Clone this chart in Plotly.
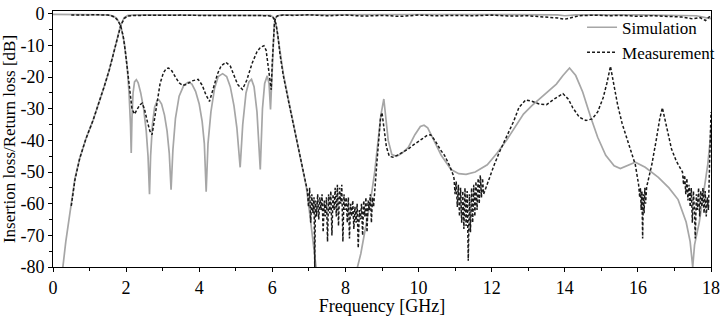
import plotly.graph_objects as go

# ---------------- data (frequency GHz, level dB) ----------------
sim_s21 = [(0.20,-90),(0.27,-80),(0.35,-72),(0.49,-60),(0.60,-52),(0.73,-45.7),(0.90,-39.5),(1.10,-33.5),
           (1.27,-27.7),(1.40,-23),(1.54,-17.7),(1.65,-13),(1.75,-8.5),(1.85,-3.6),(1.95,-1.2),(2.05,-0.5),
           (2.30,-0.3),(3.0,-0.3),(4.0,-0.3),(5.0,-0.3),(5.80,-0.35),(5.95,-0.5),(6.02,-1.0),(6.07,-2.0),
           (6.12,-4.5),(6.16,-8),(6.21,-12.6),(6.30,-19),(6.45,-27.7),(6.60,-36),(6.72,-42.7),(6.85,-50),
           (6.93,-54.7),(7.00,-61),(7.07,-67.7),(7.14,-74),(7.20,-80),(7.30,-90),(8.20,-90),(8.33,-80),
           (8.42,-75.8),(8.55,-68),(8.70,-58),(8.80,-50),(8.90,-40),(8.97,-32),(9.05,-26.9),(9.10,-33),
           (9.17,-40),(9.27,-44.5),(9.40,-45),(9.55,-44),(9.72,-42.2),(9.90,-38.2),(10.05,-35.6),(10.15,-35.2),
           (10.25,-36),(10.40,-39.5),(10.62,-44.7),(10.89,-49.2),(11.10,-50.5),(11.30,-50.7),(11.55,-50),
           (11.88,-47.7),(12.15,-44),(12.42,-39.7),(12.65,-35.5),(12.87,-31.7),(13.10,-29),(13.32,-26.7),
           (13.55,-24.5),(13.77,-22.2),(13.95,-19.5),(14.13,-17.1),(14.30,-19.5),(14.49,-24.7),(14.71,-32.7),
           (14.90,-39),(15.12,-44.7),(15.35,-48),(15.52,-48.9),(15.70,-48),(15.93,-46.9),(16.20,-48.5),
           (16.56,-51.7),(16.85,-55),(17.10,-58.7),(17.32,-65.8),(17.43,-72),(17.50,-80),(17.55,-73),
           (17.68,-65.8),(17.80,-56),(17.91,-47.7),(17.98,-39.7),(18.0,-36)]

sim_s11 = [(0.0,-0.15),(1.0,-0.2),(1.5,-0.3),(1.65,-0.7),(1.75,-1.5),(1.85,-3.6),(1.95,-9),(2.03,-17),
           (2.08,-25),(2.12,-35),(2.14,-44),(2.16,-33),(2.19,-25),(2.23,-21.5),(2.28,-20.8),(2.33,-21.8),
           (2.40,-25),(2.48,-30),(2.55,-37),(2.60,-45),(2.64,-57),(2.67,-45),(2.72,-35),(2.78,-29.5),
           (2.85,-27.4),(2.90,-27.2),(2.97,-28.5),(3.05,-32),(3.12,-37),(3.18,-44),(3.23,-55.6),(3.28,-43),
           (3.35,-33),(3.45,-26),(3.58,-22.5),(3.70,-21.6),(3.80,-22.2),(3.90,-24.5),(4.00,-28.5),(4.08,-34),
           (4.14,-41),(4.19,-56.2),(4.24,-41),(4.32,-31),(4.42,-23.5),(4.52,-19.8),(4.64,-18.9),(4.75,-19.8),
           (4.85,-23),(4.95,-29),(5.03,-36),(5.12,-48.5),(5.19,-35),(5.28,-25),(5.36,-21.5),(5.43,-20.7),
           (5.50,-23),(5.58,-31),(5.67,-49.2),(5.73,-30),(5.79,-22),(5.86,-19.6),(5.91,-22),(5.95,-30.2),
           (5.99,-20),(6.02,-10),(6.05,-4),(6.08,-1.6),(6.12,-0.7),(6.25,-0.3),(8.0,-0.2),(10.0,-0.2),
           (12.0,-0.25),(13.8,-0.3),(14.0,-0.6),(14.3,-0.3),(16.0,-0.3),(17.0,-0.4),(17.6,-0.6),(17.85,-1.2),
           (18.0,-1.5)]

meas_s21 = [(0.50,-60.7),(0.60,-52.5),(0.73,-45.7),(0.90,-39.5),(1.10,-33.5),(1.27,-27.7),(1.40,-23),
            (1.54,-17.7),(1.65,-13),(1.75,-8.5),(1.85,-3.8),(1.95,-1.4),(2.05,-0.7),(2.20,-0.5),(2.60,-0.4),
            (3.00,-0.5),(3.50,-0.4),(4.00,-0.5),(4.50,-0.4),(5.00,-0.5),(5.50,-0.5),(5.90,-0.6),(6.00,-0.9),
            (6.05,-1.6),(6.10,-3.2),(6.15,-6.8),(6.21,-12.8),(6.30,-19.5),(6.45,-28),(6.60,-36.5),(6.72,-43),
            (6.85,-50),(6.93,-54.7),
            (6.96,-56),(6.99,-61),(7.02,-55),(7.05,-66),(7.08,-57),(7.11,-63),(7.14,-58),(7.16,-80),(7.18,-59),
            (7.21,-64),(7.24,-57),(7.27,-65),(7.30,-58),(7.33,-62),(7.36,-57),(7.39,-69),(7.42,-59),(7.45,-64),
            (7.48,-58),(7.51,-72),(7.54,-57),(7.57,-63),(7.60,-56),(7.63,-70),(7.66,-57),(7.69,-62),(7.72,-55),
            (7.75,-64),(7.78,-54),(7.81,-67),(7.84,-55),(7.87,-60),(7.90,-54),(7.93,-72),(7.96,-57),(7.99,-62),
            (8.02,-58),(8.05,-66),(8.08,-58),(8.11,-71),(8.14,-60),(8.17,-64),(8.20,-59),(8.23,-68),(8.26,-61),
            (8.29,-66),(8.32,-60),(8.35,-74),(8.38,-62),(8.41,-65),(8.44,-60),(8.47,-70),(8.50,-59),(8.53,-64),
            (8.56,-58),(8.59,-69),(8.62,-59),(8.65,-62),(8.68,-57),(8.71,-66),(8.74,-58),(8.77,-61),(8.80,-55),
            (8.86,-47),(8.91,-40),(8.96,-32.7),(9.00,-31.2),(9.05,-36),(9.12,-42),(9.20,-45),(9.30,-45.3),
            (9.45,-44.5),(9.60,-43.5),(9.72,-42.7),(9.85,-41.5),(9.98,-40.6),(10.10,-39.5),(10.22,-38.5),
            (10.33,-38.2),(10.45,-40),(10.60,-43),(10.71,-44.7),(10.85,-48),(10.94,-50.7),
            (10.97,-52),(11.00,-57),(11.03,-53),(11.06,-61),(11.09,-54),(11.12,-64),(11.15,-55),(11.18,-66),
            (11.21,-56),(11.24,-68),(11.27,-55),(11.30,-67),(11.33,-56),(11.36,-78),(11.39,-57),(11.42,-69),
            (11.45,-55),(11.48,-66),(11.51,-54),(11.54,-64),(11.57,-53),(11.60,-62),(11.63,-52),(11.66,-60),
            (11.69,-51),(11.72,-58),(11.75,-52),(11.78,-57),
            (11.90,-53),(12.06,-48),(12.20,-44),(12.42,-38.7),(12.60,-34),(12.75,-29.5),(12.93,-27.2),
            (13.10,-27.6),(13.30,-28.5),(13.50,-28.7),(13.70,-27),(13.95,-25.2),(14.10,-27),(14.22,-29.7),
            (14.40,-32.7),(14.58,-33.7),(14.75,-33.2),(14.90,-31),(15.05,-26.5),(15.15,-22),(15.25,-16.6),
            (15.32,-21),(15.45,-29),(15.57,-34.7),(15.75,-41),(15.93,-47.7),
            (16.02,-54),(16.05,-58),(16.07,-55),(16.09,-62),(16.11,-56),(16.13,-71),(16.15,-57),(16.17,-63),
            (16.19,-55),(16.21,-60),(16.24,-54.7),
            (16.38,-47.7),(16.50,-40),(16.60,-33),(16.67,-29.7),(16.75,-34),(16.92,-42.7),(17.05,-46.5),
            (17.19,-49.7),
            (17.22,-50),(17.25,-54),(17.28,-51),(17.31,-57),(17.34,-52),(17.37,-59),(17.40,-54),(17.43,-61),
            (17.46,-55),(17.49,-66),(17.52,-56),(17.55,-63),(17.57,-71),(17.60,-57),(17.63,-62),(17.66,-55),
            (17.69,-64),(17.72,-56),(17.75,-61),(17.78,-55),(17.81,-63),(17.84,-56),(17.87,-64),(17.90,-58),
            (17.93,-62),(17.96,-48),(17.98,-40),(18.00,-31)]

meas_s11 = [(0.50,-0.4),(0.80,-0.3),(1.20,-0.3),(1.50,-0.4),(1.60,-0.6),(1.70,-1.2),(1.78,-2.2),(1.85,-3.8),
            (1.92,-7),(1.98,-12),(2.04,-18),(2.10,-25),(2.16,-30),(2.23,-31.7),(2.30,-30),(2.37,-28.8),
            (2.44,-28.2),(2.50,-30),(2.58,-34),(2.65,-37),(2.71,-38.2),(2.77,-34),(2.85,-27),(2.93,-22),
            (3.02,-18.6),(3.10,-17.3),(3.16,-17.1),(3.25,-18),(3.35,-20),(3.45,-21.8),(3.55,-22.6),(3.65,-22.3),
            (3.80,-21.2),(3.97,-20.7),(4.08,-22.5),(4.18,-25.5),(4.28,-27.7),(4.38,-23.5),(4.50,-19),(4.60,-16.4),
            (4.73,-15.3),(4.85,-16.5),(4.95,-19.5),(5.05,-22.3),(5.18,-23.9),(5.30,-21),(5.45,-15.5),(5.58,-12),
            (5.68,-10.5),(5.77,-10.1),(5.83,-11.5),(5.88,-16),(5.93,-22),(5.97,-24),(6.00,-15),(6.03,-6),
            (6.06,-2.5),(6.10,-1.1),(6.15,-0.6),(6.30,-0.4),(6.60,-0.5),(7.00,-0.3),(7.50,-0.6),(8.00,-0.4),
            (8.50,-0.7),(9.00,-0.5),(9.50,-0.8),(10.00,-0.4),(10.50,-0.6),(11.00,-0.5),(11.50,-0.6),(12.00,-0.4),
            (12.50,-0.7),(13.00,-0.6),(13.50,-0.9),(13.80,-1.3),(14.00,-1.7),(14.20,-1.2),(14.40,-0.6),
            (14.80,-0.4),(15.20,-0.6),(15.60,-0.5),(16.00,-0.8),(16.40,-0.6),(16.80,-0.9),(17.20,-1.0),
            (17.50,-1.6),(17.70,-1.2),(17.85,-2.1),(17.95,-1.0),(18.00,-0.8)]

x_ticks = [0, 2, 4, 6, 8, 10, 12, 14, 16, 18]
y_ticks = [-80, -70, -60, -50, -40, -30, -20, -10, 0]
y_tick_text = ["-80", "-70", "-60", "-50", "-40", "-30", "-20", "-10", "0"]

# ---------------- figure ----------------
FONT = "Times New Roman"
SIM_COLOR = "#a6a6a6"
MEAS_COLOR = "#1a1a1a"

def xs(d):
    return [p[0] for p in d]

def ys(d):
    return [p[1] for p in d]

fig = go.Figure()
fig.add_trace(go.Scatter(x=xs(sim_s21), y=ys(sim_s21), mode="lines", name="Simulation",
                         legendgroup="sim", showlegend=True,
                         line=dict(color=SIM_COLOR, width=1.7)))
fig.add_trace(go.Scatter(x=xs(sim_s11), y=ys(sim_s11), mode="lines", name="Simulation",
                         legendgroup="sim", showlegend=False,
                         line=dict(color=SIM_COLOR, width=1.7)))
fig.add_trace(go.Scatter(x=xs(meas_s21), y=ys(meas_s21), mode="lines", name="Measurement",
                         legendgroup="meas", showlegend=True,
                         line=dict(color=MEAS_COLOR, width=1.5, dash="3px,2px")))
fig.add_trace(go.Scatter(x=xs(meas_s11), y=ys(meas_s11), mode="lines", name="Measurement",
                         legendgroup="meas", showlegend=False,
                         line=dict(color=MEAS_COLOR, width=1.5, dash="3px,2px")))

fig.update_layout(
    width=724, height=316,
    margin=dict(l=53, r=4, t=5, b=42),
    paper_bgcolor="white", plot_bgcolor="white",
    font=dict(family=FONT, size=16, color="black"),
    showlegend=True,
    legend=dict(x=0.804, y=1.005, xanchor="left", yanchor="top",
                bgcolor="rgba(0,0,0,0)", borderwidth=0,
                font=dict(family=FONT, size=17, color="black"),
                tracegroupgap=0, itemwidth=30),
    xaxis=dict(range=[0, 18], tickmode="array", tickvals=x_ticks,
               ticks="outside", ticklen=4, tickcolor="black", ticklabeloverflow="allow",
               minor=dict(ticks="outside", ticklen=3, dtick=1, tick0=0, tickcolor="black"),
               showline=True, linecolor="black", linewidth=1, mirror=True,
               showgrid=False, zeroline=False,
               tickfont=dict(family=FONT, size=18),
               title=dict(text="Frequency [GHz]", font=dict(family=FONT, size=18), standoff=2)),
    yaxis=dict(range=[-80, 0.9], tickmode="array", tickvals=y_ticks, ticktext=y_tick_text,
               ticks="outside", ticklen=4, tickcolor="black", ticklabeloverflow="allow",
               minor=dict(ticks="outside", ticklen=3, dtick=5, tick0=0, tickcolor="black"),
               showline=True, linecolor="black", linewidth=1, mirror=True,
               showgrid=False, zeroline=False,
               tickfont=dict(family=FONT, size=18),
               title=dict(text="Insertion loss/Return loss [dB]", font=dict(family=FONT, size=17), standoff=2)),
)

fig.write_html("out.html")
